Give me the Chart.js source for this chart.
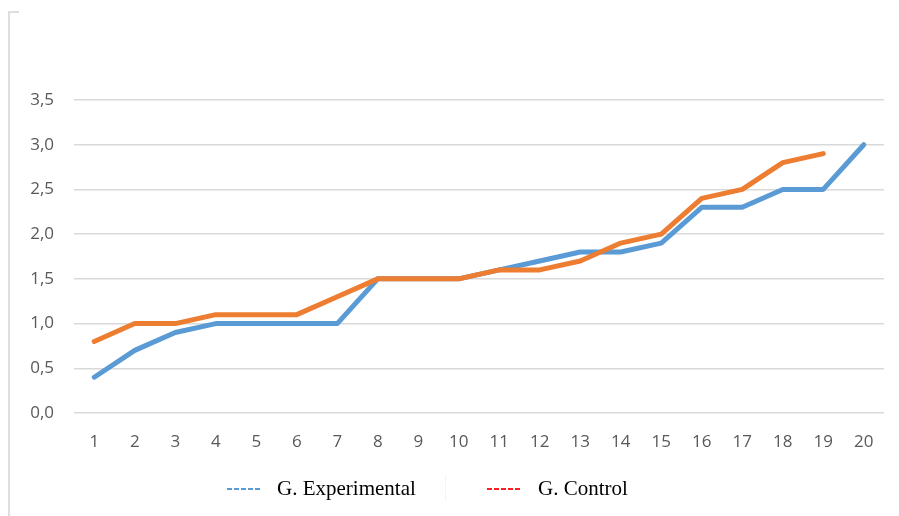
<!DOCTYPE html>
<html>
<head>
<meta charset="utf-8">
<script src="https://cdn.jsdelivr.net/npm/chart.js@4"></script>
<style>
  html, body { margin: 0; padding: 0; background: #fff; }
  #wrap { position: relative; width: 899px; height: 516px; overflow: hidden; }
  #frameL { position: absolute; left: 8px; top: 11px; width: 0; height: 520px; border-left: 2px solid #dedede; }
  #frameT { position: absolute; left: 8px; top: 11px; width: 11px; height: 0; border-top: 2px solid #dedede; }
  #sep { position: absolute; left: 445px; top: 475px; width: 0; height: 26px; border-left: 1px solid #f4f4f4; }
  canvas { position: absolute; left: 0; top: 0; }
  .leg { position: absolute; top: 475px; font-family: "Liberation Serif", "Times New Roman", serif; font-size: 21px; color: #000; white-space: nowrap; line-height: 26px; }
  .mk { position: absolute; top: 488px; height: 2px; }
</style>
</head>
<body>
<div id="wrap">
  <canvas id="c" width="899" height="516"></canvas>
  <div id="frameL"></div>
  <div id="frameT"></div>
  <div id="sep"></div>
  <div class="mk" style="left:227px;width:34px;background:repeating-linear-gradient(to right,#5b9bd5 0 5px,transparent 5px 7px);"></div>
  <div class="leg" id="l1" style="left:277px;"></div>
  <div class="mk" style="left:487px;width:34px;background:repeating-linear-gradient(to right,#ff2020 0 5px,transparent 5px 7px);"></div>
  <div class="leg" id="l2" style="left:538px;"></div>
</div>
<script>
const categories = ["1","2","3","4","5","6","7","8","9","10","11","12","13","14","15","16","17","18","19","20"];
const seriesNames = ["G. Experimental", "G. Control"];
const experimental = [0.4, 0.7, 0.9, 1.0, 1.0, 1.0, 1.0, 1.5, 1.5, 1.5, 1.6, 1.7, 1.8, 1.8, 1.9, 2.3, 2.3, 2.5, 2.5, 3.0];
const control = [0.8, 1.0, 1.0, 1.1, 1.1, 1.1, 1.3, 1.5, 1.5, 1.5, 1.6, 1.6, 1.7, 1.9, 2.0, 2.4, 2.5, 2.8, 2.9, null];
const yTicks = [0, 0.5, 1.0, 1.5, 2.0, 2.5, 3.0, 3.5];

document.getElementById('l1').textContent = seriesNames[0];
document.getElementById('l2').textContent = seriesNames[1];

new Chart(document.getElementById('c'), {
  type: 'line',
  data: {
    labels: categories,
    datasets: [
      { label: seriesNames[1], data: control, borderColor: '#ed7d31', backgroundColor: '#ed7d31', borderWidth: 5, pointRadius: 0, tension: 0, borderCapStyle: 'round', borderJoinStyle: 'round', spanGaps: false },
      { label: seriesNames[0], data: experimental, borderColor: '#5b9bd5', backgroundColor: '#5b9bd5', borderWidth: 5, pointRadius: 0, tension: 0, borderCapStyle: 'round', borderJoinStyle: 'round' }
    ]
  },
  options: {
    responsive: false,
    animation: false,
    events: [],
    layout: { padding: { left: 0, top: 100, right: 15, bottom: 0 } },
    plugins: { legend: { display: false }, tooltip: { enabled: false } },
    scales: {
      x: {
        offset: true,
        grid: { display: false, drawTicks: false },
        border: { display: false },
        ticks: { color: '#595959', font: { family: '"Open Sans", sans-serif', size: 17 }, padding: 19, maxRotation: 0, autoSkip: false },
        afterFit: s => { s.height = 103; }
      },
      y: {
        min: 0, max: 3.5,
        afterBuildTicks: s => { s.ticks = yTicks.map(v => ({ value: v })); },
        grid: { color: '#d9d9d9', lineWidth: 1.5, drawTicks: false },
        border: { display: false },
        ticks: { color: '#595959', font: { family: '"Open Sans", sans-serif', size: 17 }, padding: 20,
          callback: v => v.toFixed(1).replace('.', ',') },
        afterFit: s => { s.width = 74; }
      }
    }
  }
});
</script>
</body>
</html>
